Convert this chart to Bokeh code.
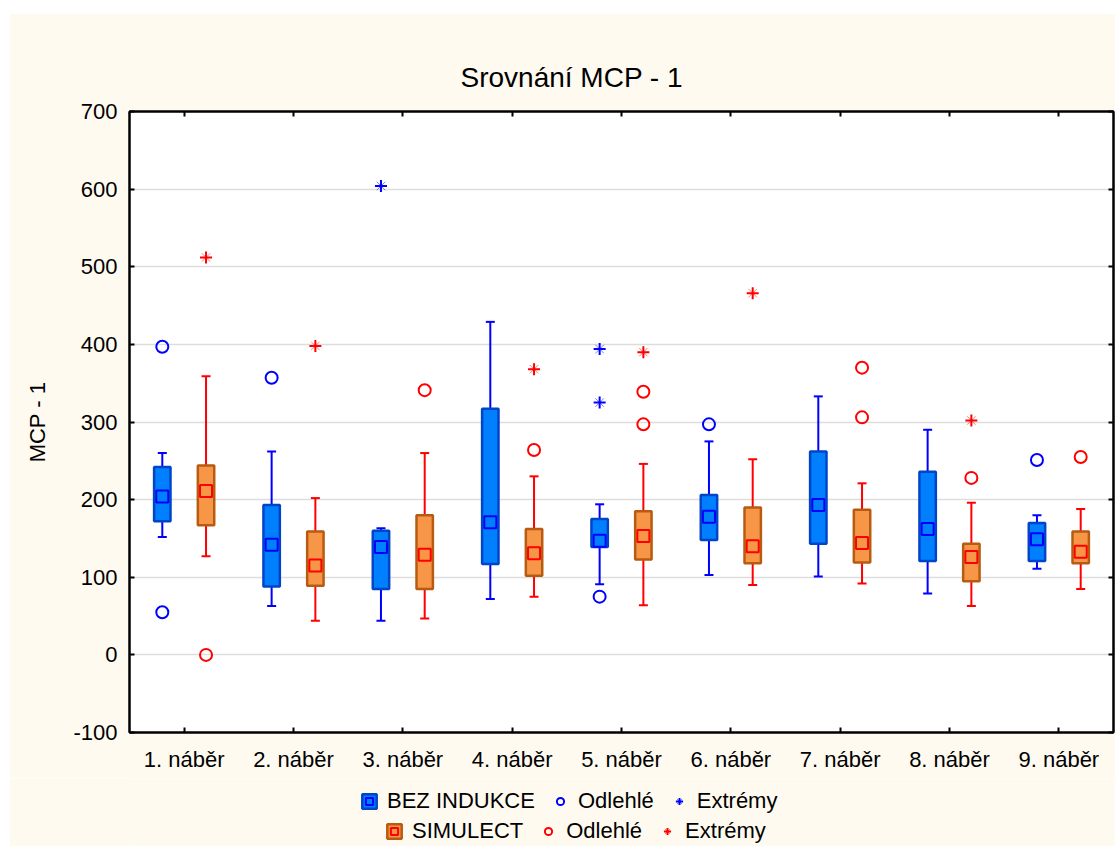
import numpy as np
from bokeh.plotting import figure
from bokeh.layouts import column
from bokeh.models import (Range1d, FixedTicker, LinearAxis, Legend, LegendItem,
                          ColumnDataSource)
from bokeh.embed import file_html
from bokeh.resources import INLINE

# ---- data -------------------------------------------------------------
categories = ["1. náběr", "2. náběr", "3. náběr", "4. náběr", "5. náběr",
              "6. náběr", "7. náběr", "8. náběr", "9. náběr"]

# BEZ INDUKCE: non-outlier min, lower quartile, median, upper quartile, non-outlier max
bez_min = [152, 63, 44, 72, 91, 103, 101, 79, 111]
bez_q1 = [172, 88, 85, 117, 139, 148, 143, 121, 121]
bez_med = [204, 142, 139, 171, 147, 178, 193, 162, 149]
bez_q3 = [242, 193, 160, 317, 175, 206, 262, 236, 170]
bez_max = [260, 262, 163, 429, 194, 275, 333, 290, 180]
bez_out_idx = [0, 0, 1, 4, 5, 8]
bez_out_val = [397, 55, 357, 75, 297, 251]
bez_ext_idx = [2, 4, 4]
bez_ext_val = [604, 394, 325]

# SIMULECT
sim_min = [127, 44, 47, 75, 64, 90, 92, 63, 85]
sim_q1 = [167, 89, 85, 102, 123, 118, 119, 95, 118]
sim_med = [211, 115, 129, 131, 153, 140, 144, 126, 133]
sim_q3 = [244, 159, 180, 162, 185, 190, 187, 143, 159]
sim_max = [359, 202, 260, 230, 246, 252, 221, 196, 188]
sim_out_idx = [0, 2, 3, 4, 4, 6, 6, 7, 8]
sim_out_val = [0, 341, 264, 339, 297, 370, 306, 228, 255]
sim_ext_idx = [0, 1, 3, 4, 5, 7]
sim_ext_val = [512, 398, 368, 390, 466, 302]

y_ticks = [-100, 0, 100, 200, 300, 400, 500, 600, 700]
y_tick_labels = ["-100", "0", "100", "200", "300", "400", "500", "600", "700"]

# ---- styling ----------------------------------------------------------
FONT = "Liberation Sans"
CREAM = "#FEFAF0"
OFFSET = 0.2
BOX_W = 0.15
BLUE = dict(fill="#0080FF", edge="#0044C8", accent="#0000FF")
ORANGE = dict(fill="#F79646", edge="#B85A10", accent="#FF0000")

p = figure(width=1106, height=765, output_backend="svg", toolbar_location=None,
           x_range=Range1d(-0.5, len(categories) - 0.5), y_range=Range1d(-100, 700),
           min_border_left=120, min_border_right=2, min_border_top=98,
           min_border_bottom=46, margin=(13, 0, 0, 9))
p.border_fill_color = CREAM
p.background_fill_color = "white"
p.outline_line_color = "black"
p.outline_line_width = 2

p.title.text = "Srovnání MCP - 1"
p.title.text_font = FONT
p.title.text_font_size = "28px"
p.title.text_font_style = "normal"
p.title.text_color = "black"
p.title.align = "left"
p.title.offset = 331
p.title.standoff = 38

idx = np.arange(len(categories))


def style_axis(ax, labels=True):
    ax.axis_line_width = 2
    ax.major_tick_line_width = 2
    ax.major_tick_in = 5
    ax.major_tick_out = 0
    ax.minor_tick_line_color = None
    ax.major_label_text_font = FONT
    ax.major_label_text_color = "black"
    ax.axis_label_text_font = FONT
    ax.axis_label_text_font_style = "normal"
    ax.axis_label_text_color = "black"
    if labels:
        ax.major_label_text_font_size = "22px"
    else:
        ax.major_label_text_font_size = "1px"
        ax.major_label_text_color = None
        ax.major_label_standoff = 0


p.xaxis.ticker = FixedTicker(ticks=list(idx))
p.xaxis.major_label_overrides = {int(i): c for i, c in zip(idx, categories)}
p.xaxis.major_label_standoff = 14
style_axis(p.xaxis[0])

p.yaxis.ticker = FixedTicker(ticks=y_ticks)
p.yaxis.major_label_overrides = dict(zip(y_ticks, y_tick_labels))
p.yaxis.axis_label = "MCP - 1"
p.yaxis.axis_label_text_font_size = "22px"
p.yaxis.axis_label_standoff = 20
p.yaxis.major_label_standoff = 12
style_axis(p.yaxis[0])

top_axis = LinearAxis(ticker=FixedTicker(ticks=list(idx)))
style_axis(top_axis, labels=False)
p.add_layout(top_axis, "above")
right_axis = LinearAxis(ticker=FixedTicker(ticks=y_ticks))
style_axis(right_axis, labels=False)
p.add_layout(right_axis, "right")

p.xgrid.grid_line_color = None
p.ygrid.ticker = FixedTicker(ticks=y_ticks)
p.ygrid.grid_line_color = "#DDDDDD"
p.ygrid.grid_line_width = 1.5

bez_src = ColumnDataSource(dict(x=idx - OFFSET, lo=bez_min, q1=bez_q1, med=bez_med,
                                q3=bez_q3, hi=bez_max))
sim_src = ColumnDataSource(dict(x=idx + OFFSET, lo=sim_min, q1=sim_q1, med=sim_med,
                                q3=sim_q3, hi=sim_max))
bez_out_src = ColumnDataSource(dict(x=np.array(bez_out_idx) - OFFSET, y=bez_out_val))
bez_ext_src = ColumnDataSource(dict(x=np.array(bez_ext_idx) - OFFSET, y=bez_ext_val))
sim_out_src = ColumnDataSource(dict(x=np.array(sim_out_idx) + OFFSET, y=sim_out_val))
sim_ext_src = ColumnDataSource(dict(x=np.array(sim_ext_idx) + OFFSET, y=sim_ext_val))


def glyph_set(fig, colors, src, out_src, ext_src, whiskers=True):
    """Whiskers, box, median, outlier and extreme glyphs for one group."""
    fill, edge, accent = colors["fill"], colors["edge"], colors["accent"]
    if whiskers:
        fig.segment(x0="x", y0="lo", x1="x", y1="hi", source=src,
                    line_color=accent, line_width=2)
        fig.scatter(x="x", y="lo", source=src, marker="dash", size=9,
                    line_color=accent, line_width=2)
        fig.scatter(x="x", y="hi", source=src, marker="dash", size=9,
                    line_color=accent, line_width=2)
    box = fig.vbar(x="x", bottom="q1", top="q3", width=BOX_W, source=src,
                   fill_color=fill, line_color=edge, line_width=2.5)
    median = fig.scatter(x="x", y="med", source=src, marker="square", size=12,
                         fill_color=fill, line_color=accent, line_width=2)
    o = fig.scatter(x="x", y="y", source=out_src, marker="circle", size=12,
                    fill_color=None, line_color=accent, line_width=2)
    e1 = fig.scatter(x="x", y="y", source=ext_src, marker="cross", size=12,
                     line_color=accent, line_width=2)
    e2 = fig.scatter(x="x", y="y", source=ext_src, marker="x", size=12,
                     line_color=accent, line_width=1, line_alpha=0.5)
    return [box, median], [o], [e1, e2]


glyph_set(p, BLUE, bez_src, bez_out_src, bez_ext_src)
glyph_set(p, ORANGE, sim_src, sim_out_src, sim_ext_src)

# ---- legend strip under the chart -------------------------------------
# legend-only renderers: hidden in the strip, shown only as legend swatches
lf = figure(width=1106, height=68, output_backend="svg", toolbar_location=None,
            x_range=Range1d(-0.5, len(categories) - 0.5),
            y_range=Range1d(1000, 2000),
            margin=(0, 0, 0, 9), min_border=0)
lf.axis.visible = False
lf.grid.visible = False
lf.outline_line_color = None
lf.border_fill_color = CREAM
lf.background_fill_color = CREAM

lb_box, lb_out, lb_ext = glyph_set(lf, BLUE, bez_src, bez_out_src, bez_ext_src,
                                   whiskers=False)
ls_box, ls_out, ls_ext = glyph_set(lf, ORANGE, sim_src, sim_out_src, sim_ext_src,
                                   whiskers=False)
for r in lb_box + lb_out + lb_ext + ls_box + ls_out + ls_ext:
    r.visible = False


def make_legend(items, loc):
    return Legend(items=items, orientation="horizontal", location=loc,
                  label_text_font=FONT, label_text_font_size="22px",
                  label_text_color="black",
                  glyph_width=18, glyph_height=18, label_standoff=9, spacing=16,
                  padding=2, margin=0, border_line_color=None,
                  background_fill_alpha=0, inactive_fill_alpha=0)


leg1 = make_legend([LegendItem(label="BEZ INDUKCE", renderers=lb_box),
                    LegendItem(label="Odlehlé", renderers=lb_out),
                    LegendItem(label="Extrémy", renderers=lb_ext)], (231, 32))
leg2 = make_legend([LegendItem(label="SIMULECT", renderers=ls_box),
                    LegendItem(label="Odlehlé", renderers=ls_out),
                    LegendItem(label="Extrémy", renderers=ls_ext)], (256, 2))
lf.add_layout(leg1, "center")
lf.add_layout(leg2, "center")

page = column(p, lf, spacing=0)
open("out.html", "w").write(file_html(page, INLINE))
